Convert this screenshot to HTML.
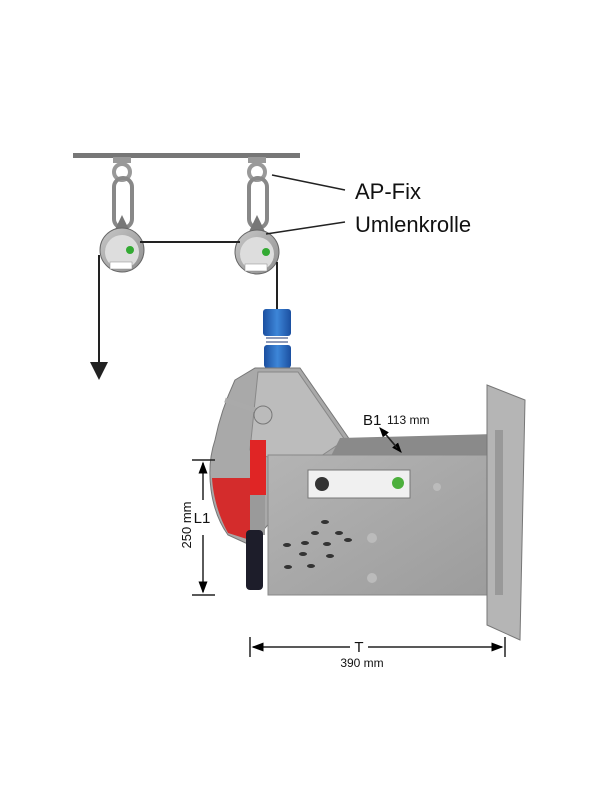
<!DOCTYPE html>
<html><head><style>body{margin:0;background:#fff}svg{display:block}</style></head><body>
<svg width="600" height="800" viewBox="0 0 600 800" xmlns="http://www.w3.org/2000/svg" font-family="Liberation Sans, sans-serif">
<defs>
<linearGradient id="m" x1="0" y1="0" x2="1" y2="1"><stop offset="0" stop-color="#c8c8c8"/><stop offset="1" stop-color="#8e8e8e"/></linearGradient>
<linearGradient id="bx" x1="0" y1="0" x2="1" y2="1"><stop offset="0" stop-color="#b4b4b4"/><stop offset="1" stop-color="#9c9c9c"/></linearGradient>
<linearGradient id="b" x1="0" y1="0" x2="1" y2="0"><stop offset="0" stop-color="#1b4fa0"/><stop offset="0.5" stop-color="#3d86d8"/><stop offset="1" stop-color="#1b4fa0"/></linearGradient>
<marker id="a" markerWidth="8" markerHeight="8" refX="7" refY="4" orient="auto"><path d="M0,1 L8,4 L0,7z" fill="#000"/></marker>
</defs>
<rect x="73" y="153" width="227" height="5" fill="#777"/>
<rect x="113" y="157" width="18" height="6" fill="#999"/>
<circle cx="122" cy="172" r="8" fill="none" stroke="#999" stroke-width="4"/>
<rect x="114" y="178" width="18" height="50" rx="9" fill="none" stroke="#888" stroke-width="4"/>
<path d="M110,240 L122,215 L134,240 Z" fill="#777"/>
<circle cx="122" cy="250" r="22" fill="url(#m)" stroke="#666"/>
<circle cx="122" cy="252" r="17" fill="#ddd"/>
<rect x="110" y="262" width="22" height="7" fill="#fff" stroke="#888" stroke-width="0.5"/>
<circle cx="130" cy="250" r="4" fill="#3a3"/>
<rect x="248" y="157" width="18" height="6" fill="#999"/>
<circle cx="257" cy="172" r="8" fill="none" stroke="#999" stroke-width="4"/>
<rect x="249" y="178" width="18" height="50" rx="9" fill="none" stroke="#888" stroke-width="4"/>
<path d="M245,240 L257,215 L269,240 Z" fill="#777"/>
<circle cx="257" cy="252" r="22" fill="url(#m)" stroke="#666"/>
<circle cx="257" cy="254" r="17" fill="#ddd"/>
<rect x="245" y="264" width="22" height="7" fill="#fff" stroke="#888" stroke-width="0.5"/>
<circle cx="266" cy="252" r="4" fill="#3a3"/>
<line x1="140" y1="242" x2="240" y2="242" stroke="#222" stroke-width="2"/>
<line x1="99" y1="255" x2="99" y2="365" stroke="#222" stroke-width="2"/>
<path d="M90,362 L108,362 L99,380 Z" fill="#222"/>
<line x1="277" y1="262" x2="277" y2="310" stroke="#222" stroke-width="2"/>
<line x1="272" y1="175" x2="345" y2="190" stroke="#222" stroke-width="1.5"/>
<line x1="266" y1="234" x2="345" y2="222" stroke="#222" stroke-width="1.5"/>
<text x="355" y="199" font-size="22" fill="#111">AP-Fix</text>
<text x="355" y="232" font-size="22" fill="#111">Umlenkrolle</text>
<rect x="263" y="309" width="28" height="27" rx="3" fill="url(#b)"/>
<path d="M266,338 h22 M266,342 h22 M266,346 h22" stroke="#6a7aa0" stroke-width="1.5"/>
<rect x="264" y="345" width="27" height="23" rx="3" fill="url(#b)"/>
<path d="M235,380 L255,368 L300,368 L350,440 L320,468 L290,500 L250,545 L228,535 C210,510 205,470 215,440 C220,415 228,395 235,380 Z" fill="#a9a9a9" stroke="#777"/>
<path d="M258,372 L298,372 L345,440 L300,470 L250,450 Z" fill="#bcbcbc" stroke="#888"/>
<path d="M212,478 L250,478 L250,540 L228,533 C218,515 213,495 212,478 Z" fill="#d42c2c"/>
<rect x="250" y="440" width="16" height="55" fill="#e02525"/>
<rect x="250" y="495" width="15" height="40" fill="#9a9a9a"/>
<rect x="246" y="530" width="17" height="60" rx="4" fill="#1d1d2a"/>
<circle cx="288" cy="486" r="15" fill="#d6d6d6" stroke="#888"/>
<circle cx="288" cy="486" r="6" fill="#888"/>
<line x1="225" y1="400" x2="270" y2="415" stroke="#aaa" stroke-width="5"/>
<circle cx="263" cy="415" r="9" fill="#bbb" stroke="#777"/>
<path d="M340,438 L495,434 L495,455 L330,458 Z" fill="#8a8a8a"/>
<rect x="268" y="455" width="227" height="140" fill="url(#bx)" stroke="#888"/>
<rect x="308" y="470" width="102" height="28" fill="#f0f0f0" stroke="#777"/>
<circle cx="322" cy="484" r="7" fill="#333"/>
<circle cx="398" cy="483" r="6" fill="#4caf3c"/>
<g fill="#333">
<ellipse cx="325" cy="522" rx="4" ry="2"/><ellipse cx="315" cy="533" rx="4" ry="2"/><ellipse cx="339" cy="533" rx="4" ry="2"/>
<ellipse cx="305" cy="543" rx="4" ry="2"/><ellipse cx="327" cy="544" rx="4" ry="2"/><ellipse cx="348" cy="540" rx="4" ry="2"/>
<ellipse cx="287" cy="545" rx="4" ry="2"/><ellipse cx="303" cy="554" rx="4" ry="2"/><ellipse cx="330" cy="556" rx="4" ry="2"/>
<ellipse cx="288" cy="567" rx="4" ry="2"/><ellipse cx="311" cy="566" rx="4" ry="2"/>
</g>
<circle cx="372" cy="538" r="5" fill="#bbb"/><circle cx="372" cy="578" r="5" fill="#bbb"/><circle cx="437" cy="487" r="4" fill="#bbb"/>
<path d="M487,385 L525,400 L520,640 L487,625 Z" fill="#b5b5b5" stroke="#777"/>
<rect x="495" y="430" width="8" height="165" fill="#999"/>
<line x1="192" y1="460" x2="215" y2="460" stroke="#222" stroke-width="1.5"/>
<line x1="192" y1="595" x2="215" y2="595" stroke="#222" stroke-width="1.5"/>
<line x1="203" y1="500" x2="203" y2="463" stroke="#222" stroke-width="1.5" marker-end="url(#a)"/>
<line x1="203" y1="535" x2="203" y2="592" stroke="#222" stroke-width="1.5" marker-end="url(#a)"/>
<text x="202" y="523" font-size="15" text-anchor="middle" fill="#111">L1</text>
<text transform="translate(191,525) rotate(-90)" font-size="13" text-anchor="middle" fill="#111">250 mm</text>
<line x1="250" y1="637" x2="250" y2="657" stroke="#222" stroke-width="1.5"/>
<line x1="505" y1="637" x2="505" y2="657" stroke="#222" stroke-width="1.5"/>
<line x1="350" y1="647" x2="253" y2="647" stroke="#222" stroke-width="1.5" marker-end="url(#a)"/>
<line x1="368" y1="647" x2="502" y2="647" stroke="#222" stroke-width="1.5" marker-end="url(#a)"/>
<text x="359" y="652" font-size="15" text-anchor="middle" fill="#111">T</text>
<text x="362" y="667" font-size="12" text-anchor="middle" fill="#111">390 mm</text>
<text x="363" y="425" font-size="15" fill="#111">B1</text>
<text x="387" y="424" font-size="12" fill="#111">113 mm</text>
<line x1="383" y1="431" x2="401" y2="452" stroke="#222" stroke-width="1.3" marker-end="url(#a)"/>
<line x1="397" y1="448" x2="380" y2="428" stroke="#222" stroke-width="1.3" marker-end="url(#a)"/>
</svg>
</body></html>
